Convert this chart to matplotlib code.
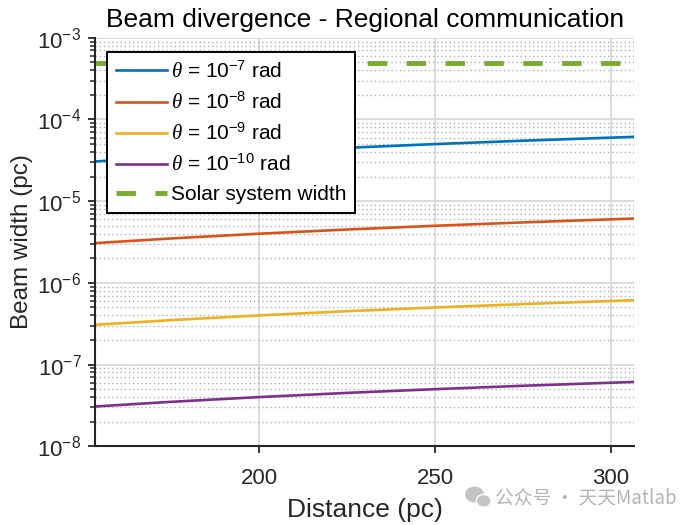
import matplotlib.pyplot as plt
from matplotlib.patches import Ellipse
from matplotlib.ticker import LogLocator, NullFormatter

plt.rcParams['font.family'] = ['Liberation Sans', 'DejaVu Sans']
plt.rcParams['mathtext.fontset'] = 'custom'
plt.rcParams['mathtext.rm'] = 'Liberation Sans'
plt.rcParams['mathtext.it'] = 'Liberation Serif:italic'
plt.rcParams['axes.unicode_minus'] = False

# distance from 500 to 1000 light years, in parsec
distance = [153.3, 175, 200, 225, 250, 275, 306.6]
width_1e7 = [3.066e-5, 3.5e-5, 4.0e-5, 4.5e-5, 5.0e-5, 5.5e-5, 6.132e-5]
width_1e8 = [3.066e-6, 3.5e-6, 4.0e-6, 4.5e-6, 5.0e-6, 5.5e-6, 6.132e-6]
width_1e9 = [3.066e-7, 3.5e-7, 4.0e-7, 4.5e-7, 5.0e-7, 5.5e-7, 6.132e-7]
width_1e10 = [3.066e-8, 3.5e-8, 4.0e-8, 4.5e-8, 5.0e-8, 5.5e-8, 6.132e-8]
solar_width = 4.85e-4

labels = [r"$\theta$ = 10$^{-7}$ rad", r"$\theta$ = 10$^{-8}$ rad",
          r"$\theta$ = 10$^{-9}$ rad", r"$\theta$ = 10$^{-10}$ rad"]
colors = ["#0072BD", "#D95319", "#EDB120", "#7E2F8E"]

fig = plt.figure(figsize=(7, 5.25), dpi=100)
ax = fig.add_axes([0.136, 0.150, 0.770, 0.778])

for w, lab, c in zip([width_1e7, width_1e8, width_1e9, width_1e10], labels, colors):
    ax.plot(distance, w, color=c, lw=1.9, label=lab)
ax.plot([distance[0], distance[-1]], [solar_width, solar_width], color="#77AC30",
        lw=3.5, ls=(0, (4, 4)), label="Solar system width")

ax.set_yscale("log")
ax.set_xlim(distance[0], distance[-1])
ax.set_ylim(1e-8, 1e-3)
ax.set_xticks([200, 250, 300])
ax.yaxis.set_major_locator(LogLocator(base=10, numticks=10))
ax.yaxis.set_minor_locator(LogLocator(base=10, subs=range(2, 10), numticks=20))
ax.yaxis.set_minor_formatter(NullFormatter())

ax.grid(True, which="major", color="#d9d9d9", lw=1.3)
ax.grid(True, which="minor", axis="y", color="#b0b0b0", lw=1.0, ls=(0, (1, 2)))
ax.set_axisbelow(True)

for s in ["top", "right"]:
    ax.spines[s].set_visible(False)
for s in ["left", "bottom"]:
    ax.spines[s].set_linewidth(1.5)
    ax.spines[s].set_color("#262626")
ax.tick_params(which="both", direction="out", colors="#262626")
ax.tick_params(which="major", length=5, width=1.3, labelsize=16)
ax.tick_params(which="minor", length=3.5, width=1.1)
ax.tick_params(axis="x", pad=11)
ax.tick_params(axis="y", pad=5)

ax.set_title("Beam divergence - Regional communication", fontsize=19, pad=8)
ax.set_xlabel("Distance (pc)", fontsize=19, color="#262626", labelpad=6)
ax.set_ylabel("Beam width (pc)", fontsize=17.5, color="#262626", labelpad=3)

leg = ax.legend(loc="upper left", bbox_to_anchor=(0.022, 0.966), borderaxespad=0,
                fontsize=15, frameon=True, fancybox=False, framealpha=1,
                edgecolor="black", handlelength=2.45, borderpad=0.42,
                labelspacing=0.48, handletextpad=0.2)
leg.get_frame().set_linewidth(1.4)

# watermark
fig.text(0.707, 0.051, "公众号 · 天天Matlab", ha="left", va="center", fontsize=13.5,
         color="#b4b4b4", family=["Noto Sans CJK SC", "DejaVu Sans"])
fig.patches.append(Ellipse((0.678, 0.058), 0.025, 0.028, transform=fig.transFigure,
                           color="#c4c4c4"))
fig.patches.append(Ellipse((0.691, 0.046), 0.021, 0.024, transform=fig.transFigure,
                           color="#c4c4c4", ec="white", lw=1))

fig.savefig("out.png", dpi=100)
